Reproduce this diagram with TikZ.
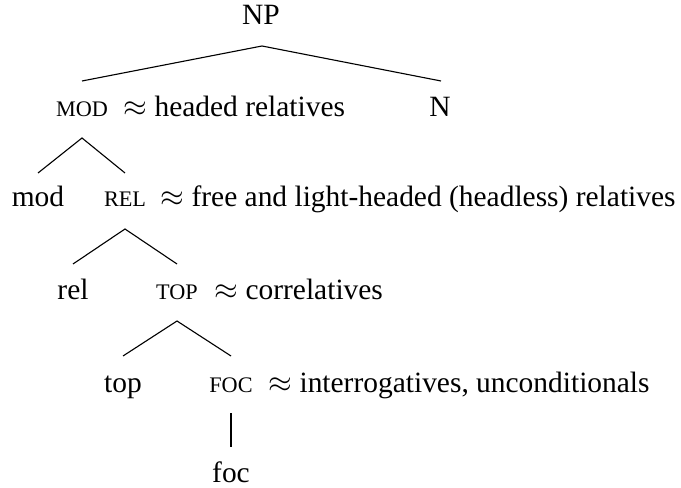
\documentclass[tikz,border=0pt]{standalone}
\usepackage{fontspec}
\setmainfont{Liberation Serif}
\usetikzlibrary{calc}
\newcommand\fakesc[1]{{\fontsize{8}{9}\selectfont #1}}
\begin{document}
\begin{tikzpicture}[x=0.36pt,y=-0.36pt,
  lab/.style={inner sep=0pt,anchor=base,font=\fontsize{10.6}{12}\selectfont},
  note/.style={inner sep=0pt,anchor=base west,font=\fontsize{10.6}{12}\selectfont},
  edge/.style={line width=0.4pt}]
\useasboundingbox (0,0) rectangle (681,488);
\node[lab] (NP) at (261,25) {NP};
\node[lab] (MOD) at (82,117) {\fakesc{MOD}};
\node[note] (nMOD) at (123,117) {$\approx$ headed relatives};
\node[lab] (N) at (440,117) {N};
\node[lab] (mod) at (38,207) {mod};
\node[lab] (REL) at (125,207) {\fakesc{REL}};
\node[note] (nREL) at (160,207) {$\approx$ free and light-headed (headless) relatives};
\node[lab] (rel) at (73,300) {rel};
\node[lab] (TOP) at (177,300) {\fakesc{TOP}};
\node[note] (nTOP) at (214,300) {$\approx$ correlatives};
\node[lab] (top) at (123,392) {top};
\node[lab] (FOC) at (231,392) {\fakesc{FOC}};
\node[note] (nFOC) at (268,392) {$\approx$ interrogatives, unconditionals};
\node[lab] (foc) at (231,482) {foc};
\draw[edge] ($(MOD.base)+(0,-36)$) -- ($(NP.base)+(1,21)$) -- ($(N.base)+(1,-36)$);
\draw[edge] ($(mod.base)+(0,-34)$) -- ($(MOD.base)+(0,21)$) -- ($(REL.base)+(0,-34)$);
\draw[edge] ($(rel.base)+(0,-36)$) -- ($(REL.base)+(0,22)$) -- ($(TOP.base)+(0,-36)$);
\draw[edge] ($(top.base)+(0,-36)$) -- ($(TOP.base)+(0,21)$) -- ($(FOC.base)+(0,-36)$);
\draw[edge] ($(FOC.base)+(0,21)$) -- ($(foc.base)+(0,-35)$);
\end{tikzpicture}
\end{document}
